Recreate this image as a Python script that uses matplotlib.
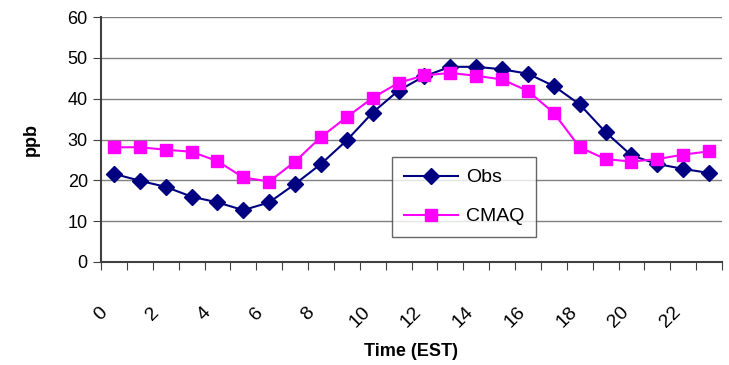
import matplotlib
matplotlib.use("Agg")
import matplotlib.pyplot as plt
import numpy as np

plt.rcParams['font.family'] = ['Liberation Sans', 'DejaVu Sans']

hours = np.arange(24)
obs = [21.6, 19.9, 18.4, 16.0, 14.6, 12.7, 14.6, 19.1, 24.0, 29.8, 36.6, 42.0,
       45.5, 47.8, 47.8, 47.2, 46.1, 43.1, 38.6, 31.8, 26.1, 24.0, 22.8, 21.8]
cmaq = [28.1, 28.1, 27.5, 27.0, 24.7, 20.7, 19.7, 24.6, 30.6, 35.5, 40.2, 43.9,
        45.7, 46.3, 45.6, 44.7, 41.9, 36.5, 28.1, 25.2, 24.6, 25.2, 26.3, 27.1]
xtick_labels = [str(h) if h % 2 == 0 and h < 24 else '' for h in range(25)]

fig = plt.figure(figsize=(7.29, 3.65), dpi=100)
ax = fig.add_axes([101 / 729, 1 - 262 / 365, 621 / 729, 245 / 365])

x = hours + 0.5
ax.plot(x, obs, color='#000080', marker='D', markersize=8, lw=1.5, label='Obs')
ax.plot(x, cmaq, color='#FF00FF', marker='s', markersize=8, lw=1.5, label='CMAQ')

ax.set_xlim(0, 24)
ax.set_ylim(0, 60)
ax.set_yticks(range(0, 61, 10))
ax.set_xticks(range(0, 25), labels=xtick_labels)
ax.tick_params(axis='x', length=6, color='#404040', pad=24, labelsize=14)
for lab in ax.get_xticklabels():
    lab.set_rotation(45)
    lab.set_ha('center')
ax.tick_params(axis='y', length=6, color='#404040', labelsize=13)

ax.grid(axis='y', color='#808080', lw=1)
ax.set_axisbelow(True)
for s in ['top', 'right']:
    ax.spines[s].set_visible(False)
for s in ['left', 'bottom']:
    ax.spines[s].set_color('#404040')
    ax.spines[s].set_linewidth(1.5)

ax.set_ylabel('ppb', fontsize=13, fontweight='bold', labelpad=20)
ax.set_xlabel('Time (EST)', fontsize=13, fontweight='bold')
ax.xaxis.set_label_coords(0.5, -(352 - 262) / 245)
ax.xaxis.label.set_va('center')

leg = ax.legend(loc='lower left', bbox_to_anchor=(291 / 621, 25 / 245), fontsize=14,
                frameon=True, fancybox=False, edgecolor='#404040',
                borderpad=0.6, handlelength=2.8, handletextpad=0.4,
                labelspacing=1.1, borderaxespad=0)
leg.get_frame().set_linewidth(1.0)

fig.savefig('out.png', dpi=100)
